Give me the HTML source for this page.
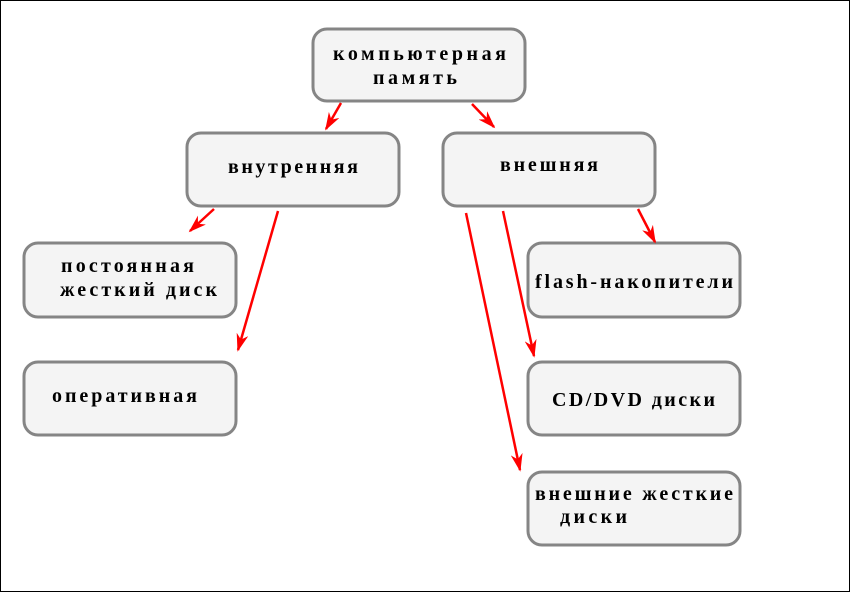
<!DOCTYPE html>
<html><head><meta charset="utf-8"><style>
html,body{margin:0;padding:0;background:#fff;}
svg{display:block;}
text{font-family:"Liberation Serif","DejaVu Serif","Times New Roman",serif;font-weight:bold;font-size:20px;fill:#000;}
</style></head><body>
<svg width="850" height="592" viewBox="0 0 850 592" xmlns="http://www.w3.org/2000/svg">
<defs>
<marker id="a" viewBox="0 0 10 10" refX="9" refY="5" markerWidth="18" markerHeight="12" markerUnits="userSpaceOnUse" orient="auto" preserveAspectRatio="none">
<path d="M0,0 L10,5 L0,10 L3,5 z" fill="#f00"/></marker>
</defs>
<rect x="0.5" y="0.5" width="849" height="591" fill="#fff" stroke="#000" stroke-width="1"/>
<g fill="#f4f4f4" stroke="#858585" stroke-width="3">
<rect x="313" y="29" width="212" height="72" rx="14"/>
<rect x="187" y="133" width="212" height="73" rx="14"/>
<rect x="443" y="133" width="212" height="73" rx="14"/>
<rect x="24" y="243" width="212" height="74" rx="14"/>
<rect x="24" y="362" width="212" height="73" rx="14"/>
<rect x="528" y="243" width="212" height="74" rx="14"/>
<rect x="528" y="362" width="212" height="73" rx="14"/>
<rect x="528" y="472" width="212" height="73" rx="14"/>
</g>
<g stroke="#f00" stroke-width="2.5" fill="none" marker-end="url(#a)">
<line x1="341" y1="103" x2="326" y2="129"/>
<line x1="472" y1="104" x2="494" y2="127"/>
<line x1="214" y1="209" x2="190" y2="231"/>
<line x1="278" y1="211" x2="238" y2="350"/>
<line x1="638" y1="209" x2="655" y2="242"/>
<line x1="503" y1="211" x2="534" y2="356"/>
<line x1="466" y1="213" x2="520" y2="470"/>
</g>
<g>
<text x="333" y="60" textLength="173" lengthAdjust="spacing">компьютерная</text>
<text x="373" y="84" textLength="84" lengthAdjust="spacing">память</text>
<text x="228" y="173" textLength="130" lengthAdjust="spacing">внутренняя</text>
<text x="500" y="171" textLength="98" lengthAdjust="spacing">внешняя</text>
<text x="61" y="272" textLength="133" lengthAdjust="spacing">постоянная</text>
<text x="60" y="296" textLength="157" lengthAdjust="spacing">жесткий диск</text>
<text x="52" y="402" textLength="145" lengthAdjust="spacing">оперативная</text>
<text x="535" y="288" textLength="198" lengthAdjust="spacing">flash-накопители</text>
<text x="552" y="406" textLength="163" lengthAdjust="spacing">CD/DVD диски</text>
<text x="535" y="500" textLength="198" lengthAdjust="spacing">внешние жесткие</text>
<text x="560" y="523" textLength="67" lengthAdjust="spacing">диски</text>
</g>
</svg>
</body></html>
